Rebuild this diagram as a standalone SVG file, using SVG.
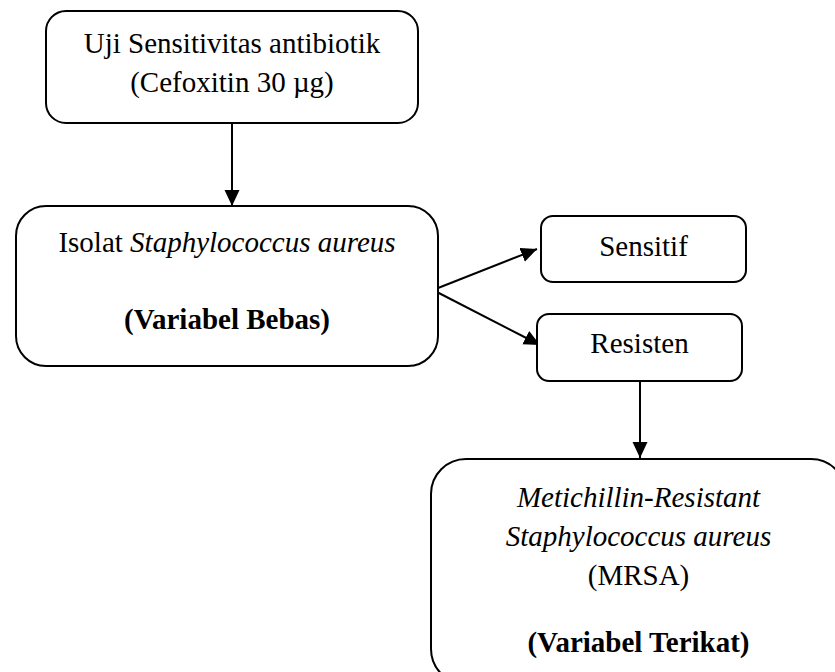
<svg xmlns="http://www.w3.org/2000/svg" width="835" height="672" viewBox="0 0 835 672">
<style>
.box{fill:#fff;stroke:#000;stroke-width:2}
.t{font-family:'Liberation Serif','Times New Roman',Tinos,'DejaVu Serif',serif;font-size:29px;fill:#000;text-anchor:middle}
.i{font-style:italic}
.b{font-weight:bold}
.c{stroke:#000;stroke-width:2;fill:none}
</style>
<defs>
<marker id="ah" markerUnits="userSpaceOnUse" markerWidth="16" markerHeight="16" refX="16" refY="7.5" orient="auto">
<path d="M0,0 L16,7.5 L0,15 Z" fill="#000"/>
</marker>
</defs>
<rect width="835" height="672" fill="#fff"/>
<g id="connectors">
<line class="c" x1="232" y1="123" x2="232" y2="206" marker-end="url(#ah)"/>
<line class="c" x1="433" y1="290" x2="537" y2="249" marker-end="url(#ah)"/>
<line class="c" x1="433" y1="290" x2="540" y2="345" marker-end="url(#ah)"/>
<line class="c" x1="640" y1="381" x2="640" y2="458" marker-end="url(#ah)"/>
</g>
<g id="node-uji" font-family="Liberation Serif, Times New Roman, serif">
<rect class="box" x="46" y="11" width="372" height="112" rx="20" ry="20"/>
<text class="t" x="232" y="53">Uji Sensitivitas antibiotik</text>
<text class="t" x="232" y="92">(Cefoxitin 30 µg)</text>
</g>
<g id="node-isolat" font-family="Liberation Serif, Times New Roman, serif">
<rect class="box" x="16" y="206" width="422" height="160" rx="30" ry="30"/>
<text class="t" x="227" y="252">Isolat <tspan class="i">Staphylococcus aureus</tspan></text>
<text class="t b" x="227" y="329">(Variabel Bebas)</text>
</g>
<g id="node-sensitif" font-family="Liberation Serif, Times New Roman, serif">
<rect class="box" x="541" y="216" width="205" height="66" rx="12" ry="12"/>
<text class="t" x="643.5" y="256">Sensitif</text>
</g>
<g id="node-resisten" font-family="Liberation Serif, Times New Roman, serif">
<rect class="box" x="537" y="314" width="205" height="67" rx="12" ry="12"/>
<text class="t" x="639.5" y="353">Resisten</text>
</g>
<g id="node-mrsa" font-family="Liberation Serif, Times New Roman, serif">
<rect class="box" x="431" y="459" width="415" height="225" rx="35" ry="35"/>
<text class="t i" x="638.5" y="507">Metichillin-Resistant</text>
<text class="t i" x="638.5" y="546">Staphylococcus aureus</text>
<text class="t" x="638.5" y="585">(MRSA)</text>
<text class="t b" x="638.5" y="652">(Variabel Terikat)</text>
</g>
</svg>
